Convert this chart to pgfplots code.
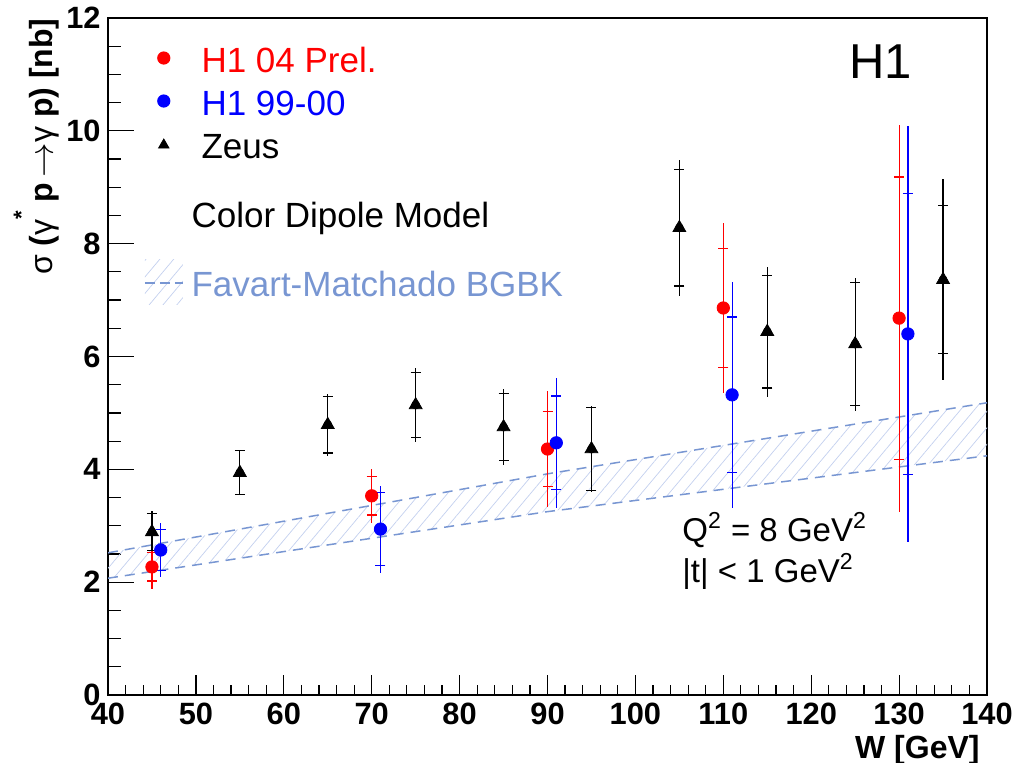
\documentclass[border=0pt]{standalone}
\usepackage{pgfplots}
\pgfplotsset{compat=1.18}
\usepackage{fontspec}
\setmainfont{Liberation Sans}
\usetikzlibrary{patterns.meta}
\definecolor{bandcol}{RGB}{120,150,210}
\definecolor{hatchcol}{RGB}{195,208,238}
\begin{document}
\begin{tikzpicture}
\useasboundingbox (-54pt,-34pt) rectangle (459pt,347.5pt);
\begin{axis}[
  at={(0,0)}, anchor=south west,
  scale only axis, width=439.5pt, height=338.5pt,
  xmin=40, xmax=140, ymin=0, ymax=12,
  xtick={40,50,...,140}, ytick={0,2,...,12},
  minor x tick num=4, minor y tick num=3,
  tick align=inside,
  xtick pos=bottom, ytick pos=left,
  axis line style={line width=1pt},
  every tick/.style={black, line width=0.6pt},
  xtick style={/pgfplots/major tick length=10pt,/pgfplots/minor tick length=5pt},
  ytick style={/pgfplots/major tick length=13pt,/pgfplots/minor tick length=6.5pt},
  ticklabel style={font=\fontsize{15.4}{18}\selectfont\bfseries},
  /pgf/number format/assume math mode=true,
  xticklabel style={anchor=north, inner sep=0pt, yshift=-4pt},
  yticklabel style={anchor=east, inner sep=0pt, xshift=-3.5pt},
  xlabel={W [GeV]},
  every axis x label/.style={at={(axis description cs:1,0)}, anchor=north east, inner sep=0pt, yshift=-20pt, xshift=-3.5pt, font=\fontsize{16}{18}\selectfont\bfseries},
  ylabel={{\mdseries σ} ({\mdseries γ}\raisebox{12pt}{\fontsize{11}{11}\selectfont *} p\,$\rightarrow${\mdseries γ} p) [nb]},
  every axis y label/.style={at={(axis description cs:-0.0626,1)}, rotate=90, anchor=base east, inner sep=0pt, font=\fontsize{16}{18}\selectfont\bfseries},
  legend style={at={(axis description cs:0.041,0.9586)}, anchor=north west, draw=none, fill=none, inner sep=0pt, outer sep=0pt, row sep=4.5pt, column sep=4pt, nodes={inner sep=0pt, text height=13pt, text depth=4pt, anchor=base west}, font=\fontsize{17.5}{20}\selectfont},
  legend cell align=left,
]
% model band
\addplot[draw=none, pattern={Lines[angle=50,distance=5.3pt,line width=0.35pt]}, pattern color=hatchcol, forget plot]
  coordinates {(40,2.52) (90,3.92) (140,5.18) (140,4.24) (90,3.25) (40,2.07)} -- cycle;
\addplot[bandcol, line width=0.75pt, dash pattern=on 5pt off 3.5pt, forget plot] coordinates {(40,2.52) (90,3.92) (140,5.18)};
\addplot[bandcol, line width=0.75pt, dash pattern=on 5pt off 3.5pt, forget plot] coordinates {(40,2.07) (90,3.25) (140,4.24)};

% total errors
\addplot[only marks, mark=none, forget plot, error bars/.cd, y dir=both, y explicit, error mark=none, error bar style={black, line width=0.6pt}]
  coordinates {(45,2.89) +- (0,0.37) (55,3.94) +- (0,0.40) (65,4.79) +- (0,0.55) (75,5.14) +- (0,0.65) (85,4.75) +- (0,0.67)
   (95,4.36) +- (0,0.76) (105,8.28) +- (0,1.20) (115,6.44) +- (0,1.15) (125,6.22) +- (0,1.18) (135,7.36) +- (0,1.78)};
\addplot[only marks, mark=none, forget plot, error bars/.cd, y dir=both, y explicit, error mark=none, error bar style={red, line width=0.6pt}]
  coordinates {(45,2.27) +- (0,0.40) (70,3.53) +- (0,0.48) (90,4.36) +- (0,1.02) (110,6.86) +- (0,1.50) (130,6.68) +- (0,3.43)};
\addplot[only marks, mark=none, forget plot, error bars/.cd, y dir=both, y explicit, error mark=none, error bar style={blue, line width=0.6pt}]
  coordinates {(46,2.57) +- (0,0.48) (71,2.94) +- (0,0.77) (91,4.47) +- (0,1.15) (111,5.32) +- (0,2.00) (131,6.40) +- (0,3.68)};

% stat errors + markers
\addplot[only marks, mark=triangle*, mark size=3.7pt, black, forget plot, error bars/.cd, y dir=both, y explicit, error mark=-, error mark options={rotate=90, black, mark size=2.5pt, line width=0.6pt}, error bar style={black, line width=0.6pt}]
  coordinates {(45,2.89) +- (0,0.33) (55,3.94) +- (0,0.39) (65,4.79) +- (0,0.50) (75,5.14) +- (0,0.58) (85,4.75) +- (0,0.60)
   (95,4.36) +- (0,0.74) (105,8.28) +- (0,1.03) (115,6.44) +- (0,1.00) (125,6.22) +- (0,1.09) (135,7.36) +- (0,1.31)};
\addplot[only marks, mark=*, mark size=3.1pt, red, forget plot, error bars/.cd, y dir=both, y explicit, error mark=-, error mark options={rotate=90, red, mark size=2.5pt, line width=0.6pt}, error bar style={red, line width=0.6pt}]
  coordinates {(45,2.27) +- (0,0.25) (70,3.53) +- (0,0.34) (90,4.36) +- (0,0.67) (110,6.86) +- (0,1.05) (130,6.68) +- (0,2.50)};
\addplot[only marks, mark=*, mark size=3.1pt, blue, forget plot, error bars/.cd, y dir=both, y explicit, error mark=-, error mark options={rotate=90, blue, mark size=2.5pt, line width=0.6pt}, error bar style={blue, line width=0.6pt}]
  coordinates {(46,2.57) +- (0,0.37) (71,2.94) +- (0,0.65) (91,4.47) +- (0,0.83) (111,5.32) +- (0,1.38) (131,6.40) +- (0,2.49)};

% legend
\addlegendimage{legend image code/.code={\path[draw=none] (0pt,0pt) -- (19pt,0pt); \fill[red, draw=none] (9.5pt,7pt) circle[radius=3.3pt];}}
\addlegendentry[text=red]{\hspace*{5pt}H1 04 Prel.}
\addlegendimage{legend image code/.code={\path[draw=none] (0pt,0pt) -- (19pt,0pt); \fill[blue, draw=none] (9.5pt,7pt) circle[radius=3.3pt];}}
\addlegendentry[text=blue]{\hspace*{5pt}H1 99-00}
\addlegendimage{legend image code/.code={\path[draw=none] (0pt,0pt) -- (19pt,0pt); \path[draw=black, fill=black, mark size=3pt] plot[mark=triangle*, only marks] coordinates {(9.5pt,6.5pt)};}}
\addlegendentry{\hspace*{5pt}Zeus}
\addlegendimage{empty legend}
\addlegendentry[text height=26pt]{Color Dipole Model}
\addlegendimage{legend image code/.code={\path[draw=none, pattern={Lines[angle=50,distance=5.3pt,line width=0.35pt]}, pattern color=hatchcol] (0pt,-4pt) rectangle (19pt,18.5pt); \draw[bandcol, line width=0.75pt, dash pattern=on 5pt off 2.5pt] (0pt,6.5pt) -- (19pt,6.5pt);}}
\addlegendentry[text height=26pt, text=bandcol]{Favart-Matchado BGBK}

\node[anchor=base west, inner sep=0pt, font=\fontsize{24.5}{26}\selectfont] at (axis description cs:0.843,0.9099) {H1};
\node[anchor=base west, inner sep=0pt, align=left, font=\fontsize{16.5}{20.5}\selectfont] at (axis description cs:0.653,0.1669) {Q\textsuperscript{2} = 8 GeV\textsuperscript{2}\\|t| < 1 GeV\textsuperscript{2}};
\end{axis}
\end{tikzpicture}
\end{document}
